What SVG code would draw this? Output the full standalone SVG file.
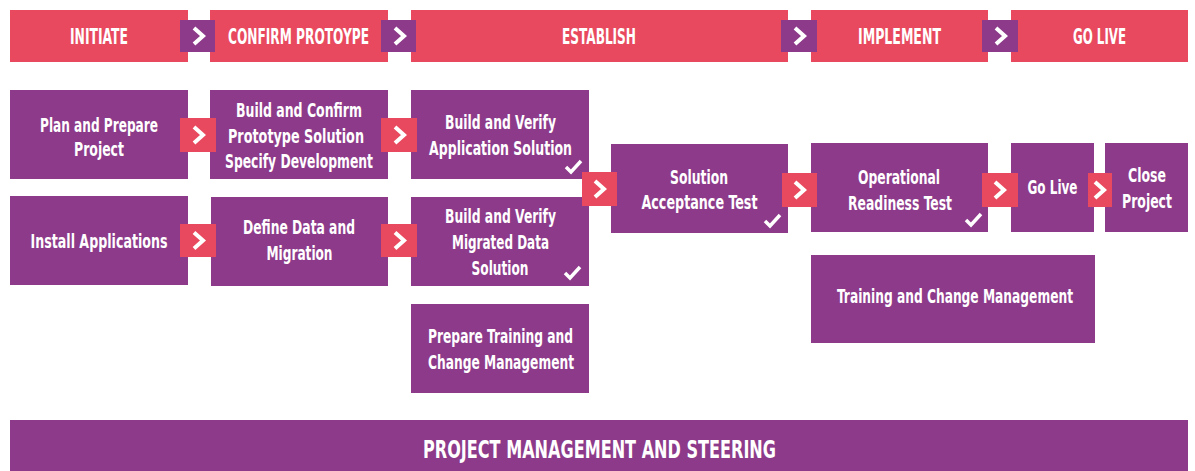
<svg xmlns="http://www.w3.org/2000/svg" width="1195" height="471" viewBox="0 0 1195 471">
<style>
.red{fill:#E8495E}
.pur{fill:#8D3A8A}
.t{font-family:"DejaVu Sans Condensed","DejaVu Sans","Liberation Sans",sans-serif;font-stretch:condensed;font-weight:bold;fill:#fff;text-anchor:middle}
.h{font-size:21px}
.b{font-size:19px}
.chev{fill:none;stroke:#fff;stroke-width:4;stroke-linejoin:miter}
.chk{fill:none;stroke:#fff;stroke-width:3.5;stroke-linecap:butt}
</style>
<defs>
<path id="cv" d="M-5,-8 L4,0 L-5,8" class="chev"/>
<path id="ck" d="M0,6 L5,11 L15,0" class="chk"/>
</defs>
<rect width="1195" height="471" fill="#fff"/>

<g id="phase-initiate"><rect class="red" x="10" y="10" width="178" height="52"/><text class="t h" x="99" y="44" textLength="58" lengthAdjust="spacingAndGlyphs">INITIATE</text></g>
<g id="phase-confirm"><rect class="red" x="210" y="10" width="178" height="52"/><text class="t h" x="298.5" y="44" textLength="141" lengthAdjust="spacingAndGlyphs">CONFIRM PROTOYPE</text></g>
<g id="phase-establish"><rect class="red" x="411" y="10" width="377" height="52"/><text class="t h" x="599" y="44" textLength="74" lengthAdjust="spacingAndGlyphs">ESTABLISH</text></g>
<g id="phase-implement"><rect class="red" x="811" y="10" width="177" height="52"/><text class="t h" x="899.5" y="44" textLength="83" lengthAdjust="spacingAndGlyphs">IMPLEMENT</text></g>
<g id="phase-golive"><rect class="red" x="1011" y="10" width="177" height="52"/><text class="t h" x="1099.5" y="44" textLength="53" lengthAdjust="spacingAndGlyphs">GO LIVE</text></g>

<g id="plan"><rect class="pur" x="10" y="90" width="178" height="89"/><text class="t b" x="99" y="132" textLength="118" lengthAdjust="spacingAndGlyphs">Plan and Prepare</text><text class="t b" x="99" y="156" textLength="50" lengthAdjust="spacingAndGlyphs">Project</text></g>
<g id="build-confirm"><rect class="pur" x="210" y="90" width="178" height="89"/><text class="t b" x="299" y="117" textLength="126" lengthAdjust="spacingAndGlyphs">Build and Confirm</text><text class="t b" x="296" y="143" textLength="136" lengthAdjust="spacingAndGlyphs">Prototype Solution</text><text class="t b" x="299" y="168" textLength="148" lengthAdjust="spacingAndGlyphs">Specify Development</text></g>
<g id="install"><rect class="pur" x="10" y="196" width="178" height="89"/><text class="t b" x="99" y="248" textLength="137" lengthAdjust="spacingAndGlyphs">Install Applications</text></g>
<g id="define-data"><rect class="pur" x="211" y="197" width="177" height="89"/><text class="t b" x="299" y="234" textLength="112" lengthAdjust="spacingAndGlyphs">Define Data and</text><text class="t b" x="299.5" y="260" textLength="66" lengthAdjust="spacingAndGlyphs">Migration</text></g>
<g id="verify-app"><rect class="pur" x="411" y="90" width="178" height="89"/><text class="t b" x="500.5" y="129" textLength="111" lengthAdjust="spacingAndGlyphs">Build and Verify</text><text class="t b" x="500.5" y="155" textLength="143" lengthAdjust="spacingAndGlyphs">Application Solution</text><use href="#ck" x="566" y="161"/></g>
<g id="verify-data"><rect class="pur" x="411" y="197" width="178" height="89"/><text class="t b" x="500.5" y="223" textLength="111" lengthAdjust="spacingAndGlyphs">Build and Verify</text><text class="t b" x="500.5" y="249" textLength="97" lengthAdjust="spacingAndGlyphs">Migrated Data</text><text class="t b" x="500" y="275" textLength="57" lengthAdjust="spacingAndGlyphs">Solution</text><use href="#ck" x="565" y="267"/></g>
<g id="prepare-training"><rect class="pur" x="411" y="304" width="178" height="89"/><text class="t b" x="500.5" y="343" textLength="145" lengthAdjust="spacingAndGlyphs">Prepare Training and</text><text class="t b" x="501" y="369" textLength="146" lengthAdjust="spacingAndGlyphs">Change Management</text></g>
<g id="acceptance"><rect class="pur" x="611" y="144" width="177" height="89"/><text class="t b" x="699" y="184" textLength="58" lengthAdjust="spacingAndGlyphs">Solution</text><text class="t b" x="699.5" y="209" textLength="116" lengthAdjust="spacingAndGlyphs">Acceptance Test</text><use href="#ck" x="765" y="215"/></g>
<g id="readiness"><rect class="pur" x="811" y="143" width="177" height="89"/><text class="t b" x="899" y="184" textLength="82" lengthAdjust="spacingAndGlyphs">Operational</text><text class="t b" x="900" y="210" textLength="104" lengthAdjust="spacingAndGlyphs">Readiness Test</text><use href="#ck" x="966" y="214"/></g>
<g id="golive"><rect class="pur" x="1011" y="143" width="83" height="89"/><text class="t b" x="1052.5" y="194" textLength="50" lengthAdjust="spacingAndGlyphs">Go Live</text></g>
<g id="close"><rect class="pur" x="1105" y="143" width="83" height="89"/><text class="t b" x="1147" y="182" textLength="38" lengthAdjust="spacingAndGlyphs">Close</text><text class="t b" x="1147" y="208" textLength="50" lengthAdjust="spacingAndGlyphs">Project</text></g>
<g id="training"><rect class="pur" x="811" y="255" width="284" height="88"/><text class="t b" x="955" y="303" textLength="236" lengthAdjust="spacingAndGlyphs">Training and Change Management</text></g>

<g id="steering"><rect class="pur" x="10" y="420" width="1178" height="51"/><text class="t" style="font-size:24px" x="599.5" y="458" textLength="353" lengthAdjust="spacingAndGlyphs">PROJECT MANAGEMENT AND STEERING</text></g>

<g id="connectors">
<rect class="pur" x="180" y="20" width="35" height="32"/><use href="#cv" x="199" y="36"/>
<rect class="pur" x="381" y="20" width="35" height="32"/><use href="#cv" x="400" y="36"/>
<rect class="pur" x="781" y="20" width="36" height="32"/><use href="#cv" x="800" y="36"/>
<rect class="pur" x="982" y="20" width="36" height="32"/><use href="#cv" x="1001" y="36"/>
<rect class="red" x="180" y="118" width="36" height="34"/><use href="#cv" x="199" y="135"/>
<rect class="red" x="381" y="118" width="36" height="34"/><use href="#cv" x="400" y="135"/>
<rect class="red" x="180" y="224" width="36" height="33"/><use href="#cv" x="199" y="240.5"/>
<rect class="red" x="381" y="224" width="36" height="33"/><use href="#cv" x="400" y="240.5"/>
<rect class="red" x="582" y="172" width="35" height="34"/><use href="#cv" x="600" y="189"/>
<rect class="red" x="782" y="173" width="35" height="34"/><use href="#cv" x="800" y="190"/>
<rect class="red" x="982" y="173" width="36" height="34"/><use href="#cv" x="1000" y="190"/>
<rect class="red" x="1088" y="173" width="24" height="34"/><use href="#cv" x="1100" y="190"/>
</g>
</svg>
